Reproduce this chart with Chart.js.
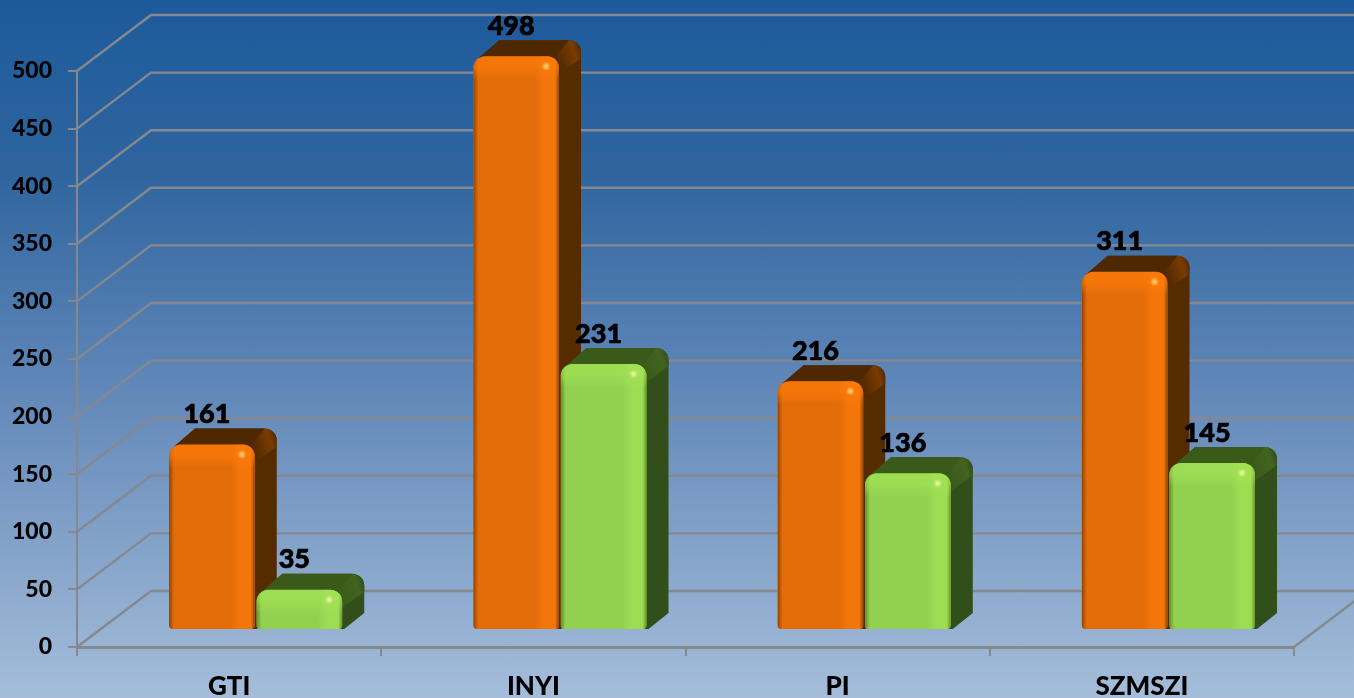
<!DOCTYPE html>
<html>
<head>
<meta charset="utf-8">
<title>GTI INYI PI SZMSZI</title>
<script src="https://cdn.jsdelivr.net/npm/chart.js@4/dist/chart.umd.min.js"></script>
<style>
    html, body { margin: 0; padding: 0; overflow: hidden; }
    body { background: linear-gradient(180deg, #1d5a9b 0%, #2f659f 25%, #6087b8 55%, #a5bdd9 100%); width: 1354px; height: 698px; }
    canvas { display: block; }
</style>
</head>
<body>
<canvas id="chart" width="1354" height="698"></canvas>
<script>
const categories = ['GTI', 'INYI', 'PI', 'SZMSZI'];
const orangeValues = [161, 498, 216, 311];
const greenValues = [35, 231, 136, 145];
const yMax = 500;
const yStep = 50;

const gridColor = '#85888e';
const labelFont = 'Lato, "Open Sans", sans-serif';

// Fake 3D: wall depth, and where the bars stand inside that depth
const wall = { dx: 74, dy: -56 };
const barShift = { x: 26.5, y: -17 };
const barDepth = { x: 22, y: -16 };

const seriesLook = [
    { top: '#4e2800', side: '#552b00', corner: '#7a3c00', light: 'rgba(255,125,10,0.6)', clear: 'rgba(255,125,10,0)', shade: 'rgba(110,50,0,0.7)', shadeClear: 'rgba(110,50,0,0)', spot: 'rgba(255,225,120,0.9)' },
    { top: '#3a5a1a', side: '#324e1a', corner: '#426420', light: 'rgba(165,230,85,0.55)', clear: 'rgba(165,230,85,0)', shade: 'rgba(70,100,25,0.6)', shadeClear: 'rgba(70,100,25,0)', spot: 'rgba(245,255,180,0.9)' }
];

const barBox = (bar) => {
    const p = bar.getProps(['x', 'y', 'base', 'width']);
    return { x0: p.x - p.width / 2, x1: p.x + p.width / 2, top: p.y, base: p.base };
};

const drawWalls = (chart) => {
    const { ctx, chartArea, scales } = chart;
    ctx.save();
    ctx.strokeStyle = gridColor;
    ctx.lineWidth = 2.4;
    scales.y.ticks.forEach(tick => {
        const y = scales.y.getPixelForValue(tick.value);
        ctx.beginPath();
        ctx.moveTo(chartArea.left, y);
        ctx.lineTo(chartArea.left + wall.dx, y + wall.dy);
        ctx.lineTo(chart.width, y + wall.dy);
        ctx.stroke();
    });
    // right edge of the floor
    ctx.beginPath();
    ctx.moveTo(chartArea.right, chartArea.bottom);
    ctx.lineTo(chartArea.right + wall.dx, chartArea.bottom + wall.dy);
    ctx.stroke();
    ctx.restore();
};

const drawBarBack = (ctx, box, look) => {
    const { x0, x1, top, base } = box;
    const dx = barDepth.x;
    const dy = barDepth.y;
    const r = 12;
    ctx.beginPath();
    ctx.moveTo(x0 + 4, top + 3);
    ctx.lineTo(x0 + dx + 4, top + dy);
    ctx.lineTo(x1 + dx - r, top + dy);
    ctx.arcTo(x1 + dx, top + dy, x1 + dx, top + dy + r, r);
    ctx.lineTo(x1 + dx, base + dy);
    ctx.lineTo(x1 + 2, base);
    ctx.lineTo(x1 - 8, base);
    ctx.closePath();
    ctx.fillStyle = look.side;
    ctx.fill();

    // top face is a bit darker, rounded corner catches some light
    ctx.beginPath();
    ctx.moveTo(x0 + 4, top + 3);
    ctx.lineTo(x0 + dx + 4, top + dy);
    ctx.lineTo(x1 + dx - r, top + dy);
    ctx.lineTo(x1 - 6, top + 3);
    ctx.closePath();
    ctx.fillStyle = look.top;
    ctx.fill();

    const glow = ctx.createLinearGradient(x1 - 4, top + 2, x1 + dx, top + dy + 10);
    glow.addColorStop(0, look.top);
    glow.addColorStop(0.75, look.corner);
    glow.addColorStop(1, look.side);
    ctx.beginPath();
    ctx.moveTo(x1 - 6, top + 3);
    ctx.lineTo(x1 + dx - r, top + dy);
    ctx.arcTo(x1 + dx, top + dy, x1 + dx, top + dy + r, r);
    ctx.lineTo(x1 + dx, top + dy + 18);
    ctx.lineTo(x1, top + 18);
    ctx.closePath();
    ctx.fillStyle = glow;
    ctx.fill();
};

const drawBarBevel = (ctx, box, look) => {
    const { x0, x1, top, base } = box;
    const w = x1 - x0;
    ctx.save();
    ctx.beginPath();
    ctx.roundRect(x0, top, w, base - top, [12, 12, 4, 4]);
    ctx.clip();

    const leftEdge = ctx.createLinearGradient(x0, 0, x0 + 5, 0);
    leftEdge.addColorStop(0, look.shade);
    leftEdge.addColorStop(1, look.shadeClear);
    ctx.fillStyle = leftEdge;
    ctx.fillRect(x0, top, 5, base - top);

    const rightBand = ctx.createLinearGradient(x0, 0, x1, 0);
    rightBand.addColorStop(0, look.clear);
    rightBand.addColorStop(0.72, look.clear);
    rightBand.addColorStop(0.82, look.light);
    rightBand.addColorStop(1, look.light);
    ctx.fillStyle = rightBand;
    ctx.fillRect(x0, top, w, base - top);

    const rightEdge = ctx.createLinearGradient(x1 - 4, 0, x1, 0);
    rightEdge.addColorStop(0, look.shadeClear);
    rightEdge.addColorStop(1, look.shade);
    ctx.fillStyle = rightEdge;
    ctx.fillRect(x1 - 4, top, 4, base - top);

    const down = ctx.createLinearGradient(0, top, 0, top + 24);
    down.addColorStop(0, look.light);
    down.addColorStop(0.45, look.light);
    down.addColorStop(1, look.clear);
    ctx.fillStyle = down;
    ctx.fillRect(x0, top, w, 24);

    const spot = ctx.createRadialGradient(x1 - 13, top + 10, 0, x1 - 13, top + 10, 4.5);
    spot.addColorStop(0, look.spot);
    spot.addColorStop(1, 'rgba(255,245,170,0)');
    ctx.fillStyle = spot;
    ctx.fillRect(x1 - 20, top + 3, 14, 14);
    ctx.restore();
};

const fakeDepth = {
    id: 'fakeDepth',
    beforeDatasetsDraw(chart) {
        const { ctx } = chart;
        drawWalls(chart);
        ctx.save();
        ctx.translate(barShift.x, barShift.y);
        chart.data.datasets.forEach((ds, i) => {
            chart.getDatasetMeta(i).data.forEach(bar => drawBarBack(ctx, barBox(bar), seriesLook[i]));
        });
    },
    afterDatasetsDraw(chart) {
        const { ctx } = chart;
        chart.data.datasets.forEach((ds, i) => {
            chart.getDatasetMeta(i).data.forEach(bar => drawBarBevel(ctx, barBox(bar), seriesLook[i]));
        });
        ctx.restore();

        // value labels sit above the top face, stroked a little to get the heavier weight
        ctx.save();
        ctx.fillStyle = '#000';
        ctx.strokeStyle = '#000';
        ctx.lineWidth = 0.7;
        ctx.font = '900 27px ' + labelFont;
        ctx.textAlign = 'center';
        ctx.textBaseline = 'middle';
        chart.data.datasets.forEach((ds, i) => {
            chart.getDatasetMeta(i).data.forEach((bar, j) => {
                const p = bar.getProps(['x', 'y']);
                ctx.fillText(String(ds.data[j]), p.x + barShift.x - 5, p.y + barShift.y - 30);
                ctx.strokeText(String(ds.data[j]), p.x + barShift.x - 5, p.y + barShift.y - 30);
            });
        });
        ctx.restore();
    }
};

new Chart(document.getElementById('chart'), {
    type: 'bar',
    data: {
        labels: categories,
        datasets: [
            { label: 'A', data: orangeValues, backgroundColor: '#e36c09' },
            { label: 'B', data: greenValues, backgroundColor: '#92d14f' }
        ]
    },
    options: {
        responsive: false,
        animation: false,
        layout: { padding: { left: 0, right: 60, top: 71, bottom: 0 } },
        plugins: { legend: { display: false }, tooltip: { enabled: false } },
        datasets: {
            bar: {
                categoryPercentage: 0.575,
                barPercentage: 0.98,
                borderRadius: { topLeft: 12, topRight: 12, bottomLeft: 4, bottomRight: 4 },
                borderSkipped: false,
                clip: false
            }
        },
        scales: {
            x: {
                afterFit: (scale) => { scale.height = 51; },
                grid: { drawOnChartArea: false, color: gridColor, lineWidth: 2, tickLength: 9 },
                border: { color: gridColor, width: 3 },
                ticks: { color: '#000', padding: 15, maxRotation: 0, font: { family: labelFont, weight: '900', size: 26 } }
            },
            y: {
                min: 0,
                max: yMax,
                afterFit: (scale) => { scale.width = 77; },
                grid: { drawOnChartArea: false, color: gridColor, lineWidth: 2, tickLength: 9 },
                border: { color: gridColor, width: 2 },
                ticks: { stepSize: yStep, color: '#000', padding: 16, font: { family: labelFont, weight: '900', size: 23 } }
            }
        }
    },
    plugins: [fakeDepth]
});
</script>
</body>
</html>
